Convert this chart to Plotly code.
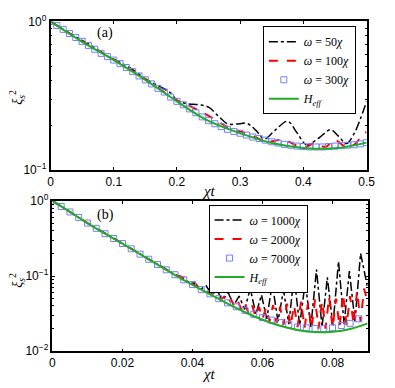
import plotly.graph_objects as go

# ---------------- panel (a) ----------------
t_a_heff = [0, 0.05, 0.1, 0.15, 0.2, 0.25, 0.3, 0.35, 0.4, 0.45, 0.5]
heff_a = [1.0, 0.73, 0.55, 0.405, 0.29, 0.214, 0.177, 0.152, 0.141, 0.140, 0.153]

t_a_sq = [0, 0.01, 0.02, 0.03, 0.04, 0.05, 0.06, 0.07, 0.08, 0.09,
          0.10, 0.11, 0.12, 0.13, 0.14, 0.15, 0.16, 0.17, 0.18, 0.19,
          0.20, 0.21, 0.22, 0.23, 0.24, 0.25, 0.26, 0.27, 0.28, 0.29,
          0.30, 0.31, 0.32, 0.33, 0.34, 0.35, 0.36, 0.37, 0.38, 0.39,
          0.40, 0.41, 0.42, 0.43, 0.44, 0.45, 0.46, 0.47, 0.48, 0.49, 0.50]
w300 = [1.0, 0.94, 0.885, 0.83, 0.78, 0.735, 0.69, 0.65, 0.61, 0.58,
        0.55, 0.52, 0.49, 0.46, 0.43, 0.405, 0.38, 0.355, 0.335, 0.31,
        0.29, 0.275, 0.258, 0.243, 0.228, 0.215, 0.205, 0.196, 0.188, 0.182,
        0.177, 0.172, 0.167, 0.163, 0.159, 0.155, 0.152, 0.149, 0.147, 0.145,
        0.144, 0.143, 0.143, 0.143, 0.144, 0.145, 0.146, 0.147, 0.148, 0.150, 0.153]

t_a_w50 = [0, 0.03, 0.05, 0.07, 0.09, 0.11, 0.13, 0.15, 0.17, 0.19, 0.2, 0.215,
           0.235, 0.25, 0.265, 0.28, 0.3, 0.31, 0.325, 0.338, 0.355, 0.375, 0.39,
           0.405, 0.425, 0.443, 0.455, 0.468, 0.48, 0.49, 0.5]
w50 = [1.0, 0.835, 0.745, 0.665, 0.585, 0.53, 0.475, 0.41, 0.37, 0.33, 0.295, 0.28,
       0.275, 0.265, 0.232, 0.205, 0.205, 0.207, 0.185, 0.162, 0.185, 0.213, 0.178,
       0.148, 0.165, 0.187, 0.17, 0.151, 0.175, 0.22, 0.29]

t_a_w100 = [0, 0.05, 0.1, 0.15, 0.2, 0.22, 0.25, 0.28, 0.3, 0.32, 0.34, 0.37,
            0.39, 0.405, 0.418, 0.435, 0.449, 0.465, 0.48, 0.495, 0.5]
w100 = [1.0, 0.735, 0.555, 0.41, 0.295, 0.27, 0.232, 0.195, 0.182, 0.17, 0.156, 0.159,
        0.146, 0.144, 0.152, 0.143, 0.16, 0.145, 0.148, 0.176, 0.18]

# ---------------- panel (b) ----------------
t_b_heff = [0, 0.005, 0.01, 0.015, 0.02, 0.025, 0.03, 0.035, 0.04, 0.045,
            0.05, 0.055, 0.06, 0.065, 0.07, 0.075, 0.08, 0.085, 0.09]
heff_b = [1.0, 0.71, 0.505, 0.365, 0.27, 0.195, 0.142, 0.103, 0.076, 0.057,
          0.043, 0.033, 0.0262, 0.0218, 0.0192, 0.0180, 0.0182, 0.0198, 0.0235]

t_b_sq = [0, 0.0025, 0.005, 0.0075, 0.01, 0.0125, 0.015, 0.0175, 0.02, 0.0225,
          0.025, 0.0275, 0.03, 0.0325, 0.035, 0.0375, 0.04, 0.0425, 0.045, 0.0475,
          0.05, 0.0525, 0.055, 0.0575, 0.06, 0.0625, 0.065, 0.0675, 0.07, 0.0725,
          0.075, 0.0775, 0.08, 0.0825, 0.085, 0.0875]
w7000 = [1.0, 0.84, 0.71, 0.6, 0.505, 0.43, 0.365, 0.315, 0.27, 0.23,
         0.195, 0.167, 0.142, 0.121, 0.104, 0.089, 0.077, 0.066, 0.058, 0.050,
         0.044, 0.039, 0.035, 0.031, 0.028, 0.026, 0.024, 0.0225, 0.021, 0.0205,
         0.020, 0.020, 0.0205, 0.022, 0.0235, 0.027]

t_b_w1000 = [0, 0.01, 0.02, 0.03, 0.0344, 0.036, 0.0376, 0.0392, 0.0407, 0.0423,
             0.0439, 0.0455, 0.047, 0.0486, 0.0502, 0.0518, 0.0533, 0.0549, 0.0565,
             0.0581, 0.0597, 0.0612, 0.0628, 0.0644, 0.066, 0.0675, 0.069, 0.0706,
             0.0722, 0.0738, 0.0754, 0.077, 0.0785, 0.0801, 0.0817, 0.0833, 0.0848,
             0.0864, 0.088, 0.09]
w1000 = [1.0, 0.505, 0.27, 0.142, 0.108, 0.098, 0.092, 0.08, 0.081, 0.067,
         0.074, 0.057, 0.064, 0.048, 0.06, 0.041, 0.054, 0.036, 0.068,
         0.031, 0.056, 0.027, 0.079, 0.025, 0.065, 0.023, 0.10, 0.022,
         0.083, 0.021, 0.122, 0.021, 0.096, 0.022, 0.156, 0.023, 0.116,
         0.025, 0.20, 0.07]

t_b_w2000 = [0, 0.01, 0.02, 0.03, 0.035, 0.037, 0.038, 0.039, 0.040, 0.041, 0.042,
             0.043, 0.044, 0.045, 0.046, 0.047, 0.048, 0.049, 0.050, 0.051, 0.052,
             0.053, 0.054, 0.055, 0.056, 0.057, 0.058, 0.059, 0.060, 0.061, 0.062,
             0.063, 0.064, 0.065, 0.066, 0.067, 0.068, 0.069, 0.070, 0.071, 0.072,
             0.073, 0.074, 0.075, 0.076, 0.077, 0.078, 0.079, 0.080, 0.081, 0.082,
             0.083, 0.084, 0.085, 0.086, 0.087, 0.088, 0.089, 0.090]
w2000 = [1.0, 0.505, 0.27, 0.142, 0.104, 0.097, 0.09, 0.088, 0.078, 0.076, 0.068,
         0.069, 0.061, 0.062, 0.054, 0.057, 0.048, 0.053, 0.043, 0.049, 0.039,
         0.046, 0.035, 0.043, 0.032, 0.041, 0.029, 0.039, 0.027, 0.038, 0.025,
         0.041, 0.024, 0.039, 0.0225, 0.043, 0.0215, 0.041, 0.021, 0.046, 0.0205,
         0.044, 0.020, 0.049, 0.020, 0.046, 0.020, 0.053, 0.0205, 0.05, 0.021,
         0.058, 0.022, 0.054, 0.023, 0.063, 0.025, 0.068, 0.045]

BLUE = '#7080ff'
GREEN = '#22aa22'
SERIF = 'Liberation Serif'
SANS = 'Liberation Sans'

fig = go.Figure()


def add_panel(xa, ya, leg, tb, wb, tr, wr, ts, ws, th, wh, names, osc_shape):
    fig.add_trace(go.Scatter(x=tb, y=wb, xaxis=xa, yaxis=ya, legend=leg, name=names[0],
                             mode='lines', line=dict(color='black', width=1.5, dash='dashdot',
                                                     shape=osc_shape)))
    fig.add_trace(go.Scatter(x=tr, y=wr, xaxis=xa, yaxis=ya, legend=leg, name=names[1],
                             mode='lines', line=dict(color='red', width=2, dash='dash',
                                                     shape=osc_shape)))
    fig.add_trace(go.Scatter(x=ts, y=ws, xaxis=xa, yaxis=ya, legend=leg, name=names[2],
                             mode='markers', marker=dict(symbol='square-open', size=6,
                                                         color=BLUE, line=dict(width=1))))
    fig.add_trace(go.Scatter(x=th, y=wh, xaxis=xa, yaxis=ya, legend=leg, name=names[3],
                             mode='lines', line=dict(color=GREEN, width=2, shape='spline')))


add_panel('x', 'y', 'legend', t_a_w50, w50, t_a_w100, w100, t_a_sq, w300, t_a_heff, heff_a,
          ['<i>ω</i> = 50<i>χ</i>', '<i>ω</i> = 100<i>χ</i>', '<i>ω</i> = 300<i>χ</i>',
           '<i>H<sub>eff</sub></i>'], 'spline')
add_panel('x2', 'y2', 'legend2', t_b_w1000, w1000, t_b_w2000, w2000, t_b_sq, w7000, t_b_heff, heff_b,
          ['<i>ω</i> = 1000<i>χ</i>', '<i>ω</i> = 2000<i>χ</i>', '<i>ω</i> = 7000<i>χ</i>',
           '<i>H<sub>eff</sub></i>'], 'linear')

W, H = 395, 388

axis_common = dict(showline=True, linecolor='black', linewidth=1.5, mirror='ticks',
                   ticks='inside', ticklen=3, tickcolor='black', showgrid=False, zeroline=False,
                   tickfont=dict(family=SANS, size=12, color='black'))

minor_a = [m * 0.1 for m in range(2, 10)]
minor_b = [m * 0.01 for m in range(2, 10)] + [m * 0.1 for m in range(2, 10)]

fig.update_layout(
    width=W, height=H,
    margin=dict(l=0, r=0, t=0, b=0),
    paper_bgcolor='white', plot_bgcolor='white',
    xaxis=dict(axis_common, domain=[49 / W, 375 / W], range=[0, 0.5], dtick=0.1, anchor='y'),
    yaxis=dict(axis_common, domain=[1 - 168 / H, 1 - 13 / H], type='log', range=[-1, 0],
               tickvals=[0.1, 1], ticktext=['10<sup>−1</sup>', '10<sup>0</sup>'], anchor='x',
               minor=dict(tickvals=minor_a, ticks='inside', ticklen=2, tickcolor='black')),
    xaxis2=dict(axis_common, domain=[51 / W, 376 / W], range=[0, 0.09], dtick=0.02, anchor='y2'),
    yaxis2=dict(axis_common, domain=[1 - 357 / H, 1 - 200 / H], type='log', range=[-2, 0],
                tickvals=[0.01, 0.1, 1],
                ticktext=['10<sup>−2</sup>', '10<sup>−1</sup>', '10<sup>0</sup>'], anchor='x2',
                minor=dict(tickvals=minor_b, ticks='inside', ticklen=2, tickcolor='black')),
    legend=dict(x=268 / W, y=1 - 18 / H, xanchor='left', yanchor='top',
                bordercolor='black', borderwidth=1, bgcolor='white',
                font=dict(family=SERIF, size=12, color='black'), tracegroupgap=0),
    legend2=dict(x=212 / W, y=1 - 204 / H, xanchor='left', yanchor='top',
                 bordercolor='black', borderwidth=1, bgcolor='white',
                 font=dict(family=SERIF, size=12, color='black'), tracegroupgap=0),
    showlegend=True,
)


def note(text, px, py, size, angle=0):
    fig.add_annotation(text=text, x=px / W, y=1 - py / H, xref='paper', yref='paper',
                       xanchor='center', yanchor='middle', showarrow=False, textangle=angle,
                       font=dict(family=SERIF, size=size, color='black'))


note('(a)', 105, 25, 14)
note('(b)', 106, 215, 14)
note('<i>χt</i>', 212, 190, 15)
note('<i>χt</i>', 212, 381, 15)
note('<i>ξ</i><sub><i>s</i></sub><sup>2</sup>', 15, 92, 14, -90)
note('<i>ξ</i><sub><i>s</i></sub><sup>2</sup>', 15, 283, 14, -90)

fig.write_html("out.html", config={'displayModeBar': False},
               post_script="document.body.style.margin='0';")
